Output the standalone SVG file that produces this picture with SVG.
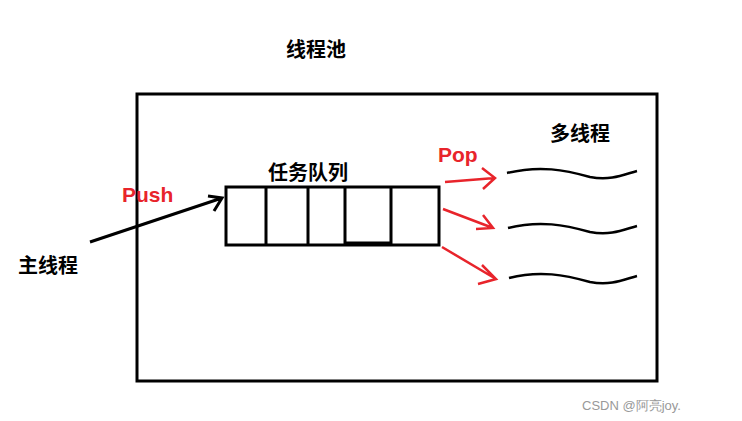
<svg xmlns="http://www.w3.org/2000/svg" width="742" height="421" viewBox="0 0 742 421">
<style>
.t{font-family:"Liberation Sans","Noto Sans CJK SC",sans-serif;font-weight:bold;font-size:20px;fill:#000}
.r{fill:#e8242b;font-size:21px}
.k{fill:none;stroke:#000;stroke-width:3}
.rl{fill:none;stroke:#e8242b;stroke-width:2.5}
.w{fill:none;stroke:#000;stroke-width:2.5}
</style>
<rect width="742" height="421" fill="#fff"/>
<g id="pool"><rect class="k" x="137" y="94" width="520" height="287"/><text class="t" x="286" y="57">线程池</text></g>
<g id="queue"><rect class="k" x="226" y="187" width="213" height="58"/>
<path class="k" d="M266 187V245M308 187V245M345 187V245M391 187V245M345 243H391"/>
<text class="t" x="268" y="180">任务队列</text></g>
<g id="main"><text class="t" x="18" y="273">主线程</text></g>
<g id="threads"><text class="t" x="550" y="141">多线程</text>
<path class="w" d="M507 173C540 165 565 170 590 177C612 181 625 174 637 171"/>
<path class="w" d="M508 228C540 220 565 225 590 232C612 236 625 229 637 226"/>
<path class="w" d="M509 278C540 270 565 275 590 282C612 286 625 279 637 276"/></g>
<g id="connectors">
<path class="k" stroke-width="2" d="M90 242L222 198M208 196L222 198L214 211"/>
<text class="t r" x="122" y="202">Push</text>
<text class="t r" x="438" y="162">Pop</text>
<path class="rl" d="M445 182L495 178M482 168L495 178L483 189"/>
<path class="rl" d="M443 209L493 228M483 215L493 228L476 229"/>
<path class="rl" d="M442 247L496 279M482 265L496 279L478 284"/>
</g>
<text x="582" y="410" font-family="Liberation Sans,sans-serif" font-size="13" fill="#999">CSDN @阿亮joy.</text>
</svg>
